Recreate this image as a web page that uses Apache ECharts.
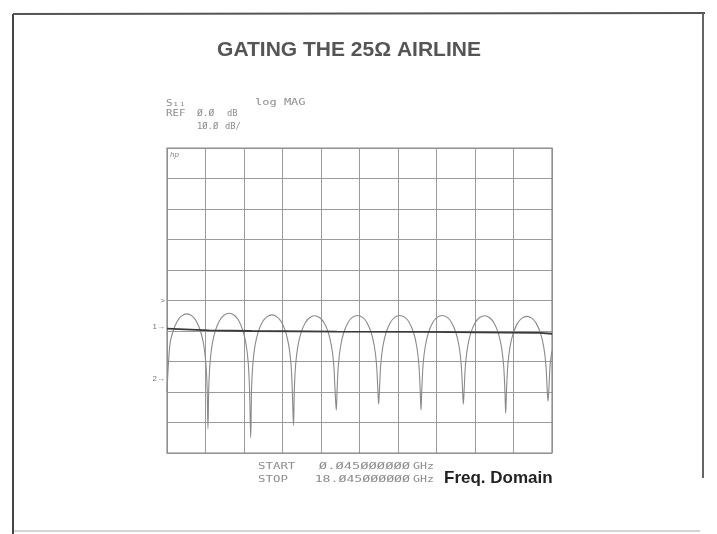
<!DOCTYPE html>
<html>
<head>
<meta charset="utf-8">
<script src="https://cdn.jsdelivr.net/npm/echarts@6/dist/echarts.min.js"></script>
<style>
  html, body { margin: 0; padding: 0; background: #ffffff; }
  #chart { width: 717px; height: 534px; }
</style>
</head>
<body>
<div id="chart"></div>
<script>
// Sweep limits (GHz) and display scale (dB)
const startGHz = 0.045;
const stopGHz = 18.045;
const refDb = 0;
const dbPerDiv = 10;

// Ungated S11 log magnitude: [frequency GHz, dB]
const s11Ungated = [
  [0.045, -30.0], [0.18, -14.5], [0.33, -10.0], [0.53, -6.7], [0.73, -5.05], [0.97, -4.4],
  [1.21, -5.05], [1.41, -6.7], [1.61, -10.0], [1.76, -14.5], [1.86, -20.4], [1.92, -28.4], [1.96, -42.0],
  [2.00, -28.2], [2.06, -20.2], [2.16, -14.3], [2.31, -9.8], [2.51, -6.5], [2.71, -4.85], [2.95, -4.2],
  [3.19, -4.85], [3.39, -6.5], [3.59, -9.8], [3.74, -14.3], [3.84, -20.2], [3.90, -28.2], [3.96, -45.0],
  [4.00, -28.7], [4.06, -20.7], [4.16, -14.8], [4.31, -10.3], [4.51, -7.0], [4.71, -5.35], [4.95, -4.7],
  [5.19, -5.35], [5.39, -7.0], [5.59, -10.3], [5.74, -14.8], [5.84, -20.7], [5.90, -28.7], [5.96, -41.0],
  [6.00, -29.0], [6.06, -21.0], [6.16, -15.1], [6.31, -10.6], [6.51, -7.3], [6.71, -5.65], [6.95, -5.0],
  [7.19, -5.65], [7.39, -7.3], [7.59, -10.6], [7.74, -15.1], [7.84, -21.0], [7.90, -29.0], [7.96, -36.0],
  [8.00, -28.9], [8.06, -20.9], [8.16, -15.0], [8.31, -10.5], [8.51, -7.2], [8.71, -5.55], [8.95, -4.9],
  [9.19, -5.55], [9.39, -7.2], [9.59, -10.5], [9.74, -15.0], [9.84, -20.9], [9.90, -28.9], [9.94, -34.0],
  [9.98, -28.9], [10.04, -20.9], [10.14, -15.0], [10.29, -10.5], [10.49, -7.2], [10.69, -5.55], [10.93, -4.9],
  [11.17, -5.55], [11.37, -7.2], [11.57, -10.5], [11.72, -15.0], [11.82, -20.9], [11.88, -28.9], [11.92, -36.0],
  [11.96, -28.9], [12.02, -20.9], [12.12, -15.0], [12.27, -10.5], [12.47, -7.2], [12.67, -5.55], [12.91, -4.9],
  [13.15, -5.55], [13.35, -7.2], [13.55, -10.5], [13.70, -15.0], [13.80, -20.9], [13.86, -28.9], [13.90, -34.0],
  [13.94, -29.0], [14.00, -21.0], [14.10, -15.1], [14.25, -10.6], [14.45, -7.3], [14.65, -5.65], [14.89, -5.0],
  [15.13, -5.65], [15.33, -7.3], [15.53, -10.6], [15.68, -15.1], [15.78, -21.0], [15.84, -29.0], [15.88, -37.0],
  [15.92, -29.2], [15.98, -21.2], [16.08, -15.3], [16.23, -10.8], [16.43, -7.5], [16.63, -5.85], [16.87, -5.2],
  [17.11, -5.85], [17.31, -7.5], [17.51, -10.8], [17.66, -15.3], [17.76, -21.2], [17.82, -29.2], [17.86, -33.0],
  [17.90, -29.0], [17.96, -21.0], [18.045, -16.5]
];

// Gated S11 log magnitude: [frequency GHz, dB]
const s11Gated = [
  [0.045, -9.2], [2.0, -9.8], [4.0, -10.0], [8.0, -10.2], [12.0, -10.3], [16.0, -10.5], [17.5, -10.6], [18.045, -10.9]
];

// Trace reference markers at the left edge: [label, dB]
const refMarkers = [['>', 0], ['1\u2192', -8.5], ['2\u2192', -25.6]];

const Z = '\u00d8';
const titleText = 'GATING THE 25\u03a9 AIRLINE';
const domainText = 'Freq. Domain';

const chart = echarts.init(document.getElementById('chart'), null, { renderer: 'canvas' });

const plotFont = '8px "DejaVu Sans Mono"';
const inkGrey = '#8c8c8c';
const traceGrey = '#8a8a8a';
const gridGrey = '#9a9a9a';

// plotter-style annotation: narrow mono font stretched horizontally
function plotText(x, y, text, stretch, align) {
  return {
    type: 'text', x: x, y: y, scaleX: stretch, scaleY: 1,
    style: { text: text, font: plotFont, fill: inkGrey, align: align || 'left', verticalAlign: 'middle' }
  };
}

chart.setOption({
  animation: false,
  backgroundColor: '#ffffff',
  grid: { left: 167, right: 165, top: 148, bottom: 81, containLabel: false },
  xAxis: [
    {
      type: 'value', min: startGHz, max: stopGHz,
      axisLine: { show: false }, axisTick: { show: false }, axisLabel: { show: false }, splitLine: { show: false }
    },
    {
      // ten graticule divisions across the sweep
      type: 'value', min: 0, max: 10, interval: 1,
      axisLine: { show: false }, axisTick: { show: false }, axisLabel: { show: false },
      splitLine: { show: true, lineStyle: { color: gridGrey, width: 1 } }
    }
  ],
  yAxis: {
    type: 'value', min: refDb - 5 * dbPerDiv, max: refDb + 5 * dbPerDiv, interval: dbPerDiv,
    axisLine: { show: false }, axisTick: { show: false }, axisLabel: { show: false },
    splitLine: { show: true, lineStyle: { color: gridGrey, width: 1 } }
  },
  series: [
    {
      name: 'ungated', type: 'line', xAxisIndex: 0, data: s11Ungated,
      symbol: 'none', smooth: 0.35, lineStyle: { color: traceGrey, width: 1.1 }, z: 3
    },
    {
      name: 'gated', type: 'line', xAxisIndex: 0, data: s11Gated,
      symbol: 'none', lineStyle: { color: '#3a3a3a', width: 1.8 }, z: 4,
      markPoint: {
        symbol: 'circle', symbolSize: 0, silent: true,
        label: { show: true, position: 'left', distance: 2, color: '#777', fontSize: 8, fontFamily: 'Liberation Sans',
          formatter: p => p.name },
        data: refMarkers.map(m => ({ name: m[0], coord: [startGHz, m[1]] }))
      }
    }
  ],
  graphic: [
    // page frame
    { type: 'line', shape: { x1: 13, y1: 534, x2: 13, y2: 14 }, style: { stroke: '#444', lineWidth: 2 } },
    { type: 'line', shape: { x1: 13, y1: 14, x2: 705, y2: 13 }, style: { stroke: '#555', lineWidth: 2 } },
    { type: 'line', shape: { x1: 703, y1: 13, x2: 703, y2: 478 }, style: { stroke: '#666', lineWidth: 2 } },
    { type: 'line', shape: { x1: 14, y1: 531, x2: 700, y2: 531 }, style: { stroke: '#aaa', lineWidth: 1 } },
    // graticule outline
    { type: 'rect', shape: { x: 167, y: 148, width: 385, height: 305 }, style: { fill: 'none', stroke: '#8a8a8a', lineWidth: 1.2 }, z: 1 },
    // title
    { type: 'text', x: 349, y: 50, style: { text: titleText, font: 'bold 21px "Liberation Sans"', fill: '#555', align: 'center', verticalAlign: 'middle' } },
    // analyzer header
    plotText(166, 104, 'S\u2081\u2081', 1.35),
    plotText(255, 103, 'log MAG', 1.5),
    plotText(166, 114, 'REF', 1.35),
    plotText(197, 114, Z + '.' + Z, 1.2),
    plotText(227, 114, 'dB', 1.1),
    plotText(197, 127, '1' + Z + '.' + Z, 1.1),
    plotText(225, 127, 'dB/', 1.1),
    { type: 'text', x: 170, y: 155, style: { text: 'hp', font: 'italic 8px "Liberation Sans"', fill: '#888', verticalAlign: 'middle' } },
    // sweep limits
    plotText(258, 467, 'START', 1.55),
    plotText(410, 467, Z + '.' + Z + '45' + Z + Z + Z + Z + Z + Z, 1.72, 'right'),
    plotText(413, 467, 'GHz', 1.45),
    plotText(258, 480, 'STOP', 1.55),
    plotText(410, 480, '18.' + Z + '45' + Z + Z + Z + Z + Z + Z, 1.65, 'right'),
    plotText(413, 480, 'GHz', 1.45),
    { type: 'text', x: 444, y: 478, style: { text: domainText, font: 'bold 17px "Liberation Sans"', fill: '#222', verticalAlign: 'middle' } }
  ]
});
</script>
</body>
</html>
